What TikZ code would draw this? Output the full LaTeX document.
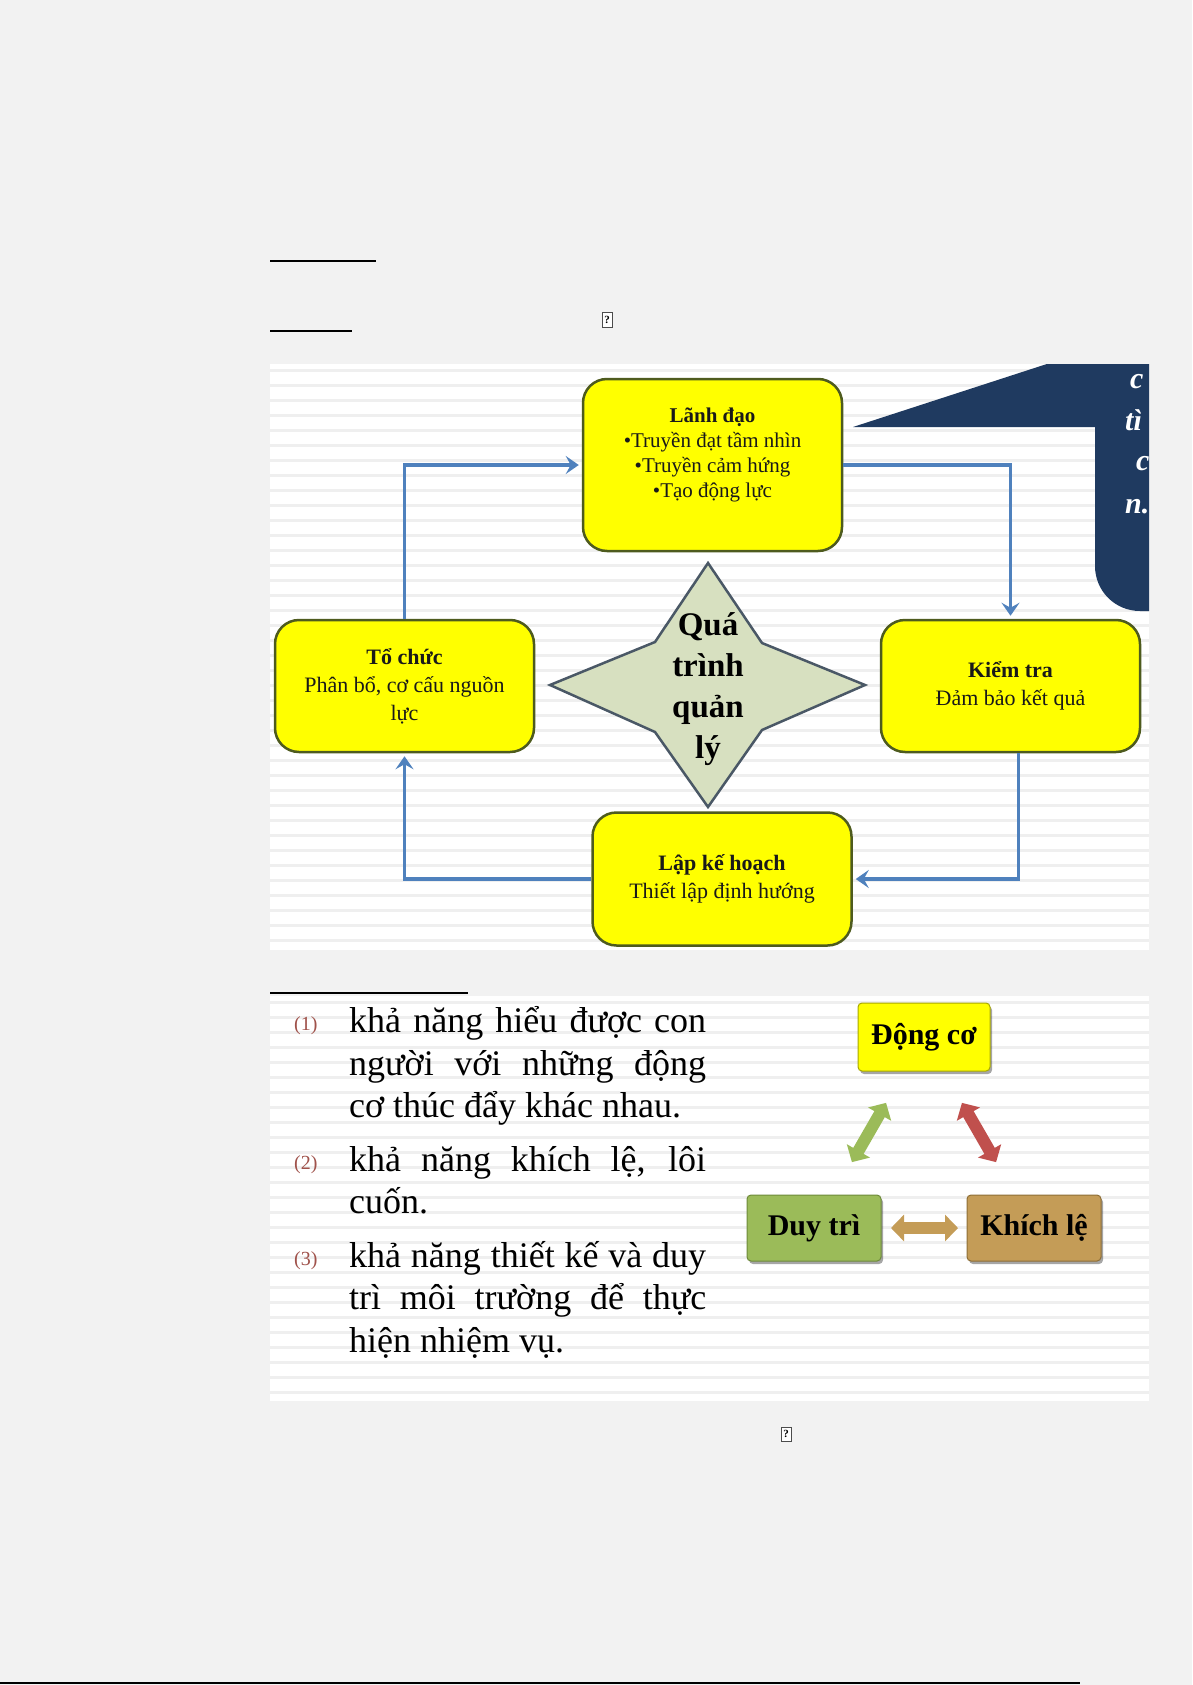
\documentclass[tikz,border=0pt]{standalone}
\usepackage{fontspec}
\setmainfont{Liberation Serif}
\usetikzlibrary{arrows.meta,shadows}
\definecolor{pagebg}{HTML}{F2F2F2}
\definecolor{stripe}{HTML}{EFEFEF}
\definecolor{flowblue}{HTML}{4F81BD}
\definecolor{boxyellow}{HTML}{FFFF00}
\definecolor{boxedge}{HTML}{4E5B1E}
\definecolor{starfill}{HTML}{D7E0C0}
\definecolor{staredge}{HTML}{4A5866}
\definecolor{navy}{HTML}{1F3A60}
\definecolor{numred}{HTML}{A0524B}
\definecolor{olivegreen}{HTML}{9BBB59}
\definecolor{olivedark}{HTML}{6E8A3A}
\definecolor{tanfill}{HTML}{C49C57}
\definecolor{tandark}{HTML}{8E6E36}
\definecolor{brickred}{HTML}{C0504D}
\definecolor{yellowedge}{HTML}{A8A800}
\begin{document}
\begin{tikzpicture}[x=1pt,y=-1pt,
  flowbox/.style={draw=boxedge, line width=2.5pt, fill=boxyellow, rounded corners=24pt,
    minimum width=259pt, align=center, text=black!90, inner sep=0pt,
    font=\fontsize{22}{28}\selectfont},
  flowtext/.style={align=center, text=black!90, inner sep=0pt, font=\fontsize{21}{25}\selectfont},
  flowarrow/.style={draw=flowblue, line width=3.5pt, shorten >=3pt,
    -{Stealth[length=13pt,width=18pt,inset=5pt]}},
  startext/.style={align=center, inner sep=0pt, text=black, font=\bfseries\fontsize{33}{41}\selectfont},
  callouttext/.style={anchor=base west, inner sep=0pt, text=white, font=\bfseries\itshape\fontsize{30}{36}\selectfont},
  smallbox/.style={rounded corners=4pt, line width=1pt, inner sep=0pt, text=black,
    font=\bfseries\fontsize{30}{36}\selectfont,
    drop shadow={shadow xshift=2pt, shadow yshift=-3pt, opacity=0.35, fill=black}},
  blockarrow/.style={line width=12pt, draw=#1,
    {Triangle[length=13pt,width=26pt]}-{Triangle[length=13pt,width=26pt]}},
  listtext/.style={anchor=base west, inner sep=0pt, text=black, font=\fontsize{36}{43}\selectfont},
  numtext/.style={anchor=base west, inner sep=0pt, text=numred, font=\fontsize{20}{24}\selectfont},
  glyphbox/.style={draw=black!70, line width=1pt, fill=white, minimum width=10pt, minimum height=14pt,
    inner sep=0pt, font=\bfseries\fontsize{11}{11}\selectfont},
  rule/.style={draw=black, line width=2pt}
]
\useasboundingbox (0,0) rectangle (1192,1685);
\fill[pagebg] (0,0) rectangle (1192,1685);

% panels with faint stripes
\fill[white] (270,364) rectangle (1149,950);
\foreach \yy in {370,385,...,946} \draw[stripe, line width=3pt] (270,\yy) -- (1149,\yy);
\fill[white] (270,996) rectangle (1149,1401);
\foreach \yy in {1002,1017,...,1398} \draw[stripe, line width=3pt] (270,\yy) -- (1149,\yy);

% rules
\draw[rule] (270,261) -- (376,261);
\draw[rule] (270,331) -- (352,331);
\draw[rule] (270,993) -- (468,993);
\draw[rule] (0,1683) -- (1080,1683);

% missing glyph boxes
\node[glyphbox] (q1) at (607,320) {?};
\node[glyphbox] (q2) at (786,1434) {?};

% callout (clipped by panel)
\begin{scope}
\clip (270,364) rectangle (1149,950);
\fill[navy] (853,427) -- (1053,362) -- (1151,362) -- (1151,611) -- (1140,611)
  .. controls (1115,611) and (1095,591) .. (1095,566) -- (1095,427) -- cycle;
\node[callouttext] (c1) at (1130,388) {c};
\node[callouttext] (c2) at (1125,430) {tì};
\node[callouttext] (c3) at (1136,470) {c};
\node[callouttext] (c4) at (1125,513) {n.};
\end{scope}

% flow boxes
\node[flowbox, minimum height=172pt] (lanh) at (712.5,465) {};
\node[flowtext] (lanhtxt) at (712.5,455) {\textbf{Lãnh đạo}\\•Truyền đạt tầm nhìn\\•Truyền cảm hứng\\•Tạo động lực};
\node[flowbox, minimum height=132pt] (tochuc) at (404.5,686) {\textbf{Tổ chức}\\Phân bổ, cơ cấu nguồn\\lực};
\node[flowbox, minimum height=132pt] (kiemtra) at (1010.5,686) {\textbf{Kiểm tra}\\Đảm bảo kết quả};
\node[flowbox, minimum height=133pt] (lap) at (722,879) {\textbf{Lập kế hoạch}\\Thiết lập định hướng};

% star
\path[fill=starfill, draw=staredge, line width=2.5pt, line join=miter]
  (708,563) -- (762,643) -- (865,685) -- (762,730) -- (708,807) -- (655,732) -- (550,685) -- (655,642) -- cycle;
\node[startext] (star) at (708,689) {Quá\\trình\\quản\\lý};

% flow connectors
\draw[flowarrow] (tochuc.north) |- (lanh.west);
\draw[flowarrow] (lanh.east) -| (kiemtra.north);
\draw[flowarrow] ([xshift=8pt]kiemtra.south) |- (lap.east);
\draw[flowarrow] (lap.west) -| (tochuc.south);

% list
\node[numtext] (n1) at (294,1030) {(1)};
\node[listtext] (l1) at (349,1032) {\makebox[357pt][s]{khả năng hiểu được con}};
\node[listtext] (l2) at (349,1075) {\makebox[357pt][s]{người với những động}};
\node[listtext] (l3) at (349,1117) {cơ thúc đẩy khác nhau.};
\node[numtext] (n2) at (294,1169) {(2)};
\node[listtext] (l4) at (349,1171) {\makebox[357pt][s]{khả năng khích lệ, lôi}};
\node[listtext] (l5) at (349,1213) {cuốn.};
\node[numtext] (n3) at (294,1265) {(3)};
\node[listtext] (l6) at (349,1267) {\makebox[357pt][s]{khả năng thiết kế và duy}};
\node[listtext] (l7) at (349,1309) {\makebox[357pt][s]{trì môi trường để thực}};
\node[listtext] (l8) at (349,1352) {hiện nhiệm vụ.};

% motivation triangle
\node[smallbox, fill=boxyellow, draw=yellowedge, minimum width=132pt, minimum height=68pt] (dongco) at (924,1037) {Động cơ};
\node[smallbox, fill=olivegreen, draw=olivedark, minimum width=134pt, minimum height=66pt] (duytri) at (814,1228) {Duy trì};
\node[smallbox, fill=tanfill, draw=tandark, minimum width=134pt, minimum height=66pt] (khichle) at (1034,1228) {Khích lệ};

\draw[blockarrow=olivegreen, shorten <=76pt, shorten >=76pt] (duytri.center) -- (dongco.center);
\draw[blockarrow=brickred, shorten <=76pt, shorten >=76pt] (dongco.center) -- (khichle.center);
\draw[blockarrow=tanfill, shorten <=77pt, shorten >=76pt] (duytri.center) -- (khichle.center);
\end{tikzpicture}
\end{document}
